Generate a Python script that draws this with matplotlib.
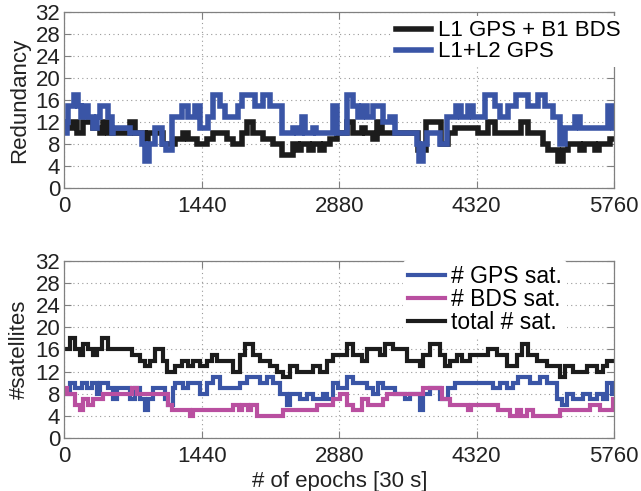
import matplotlib

matplotlib.use("Agg")
import matplotlib.pyplot as plt

plt.rcParams["font.family"] = ["Liberation Sans", "DejaVu Sans"]

N_EPOCHS = 5760
X_TICKS = [0, 1440, 2880, 4320, 5760]
Y_TICKS = [0, 4, 8, 12, 16, 20, 24, 28, 32]

# step series: epoch where a new value starts, and that value
red_bds_x = [0, 30, 93, 128, 197, 302, 372, 407, 459, 687, 739, 844, 879, 1036, 1158, 1246,
             1298, 1386, 1490, 1560, 1700, 1770, 1857, 1909, 1979, 2084, 2189, 2277, 2399, 2450,
             2480, 2560, 2600, 2680, 2720, 2783, 2853, 2957, 3027, 3114, 3149, 3236, 3271, 3324,
             3700, 3788, 3949, 4019, 4089, 4333, 4438, 4508, 4610, 4787, 4857, 5014, 5067, 5172,
             5224, 5276, 5400, 5440, 5560, 5600, 5713]
red_bds_v = [12, 11, 12, 10, 12, 11, 10, 12, 10, 12, 10, 8, 10, 8, 9, 10,
             9, 8, 9, 10, 9, 8, 10, 12, 10, 9, 8, 6, 8, 7,
             8, 7, 8, 7, 8, 9, 10, 12, 10, 11, 10, 9, 12, 10,
             7, 12, 8, 10, 11, 10, 12, 10, 10, 12, 10, 8, 7, 5,
             7, 8, 7, 8, 7, 8, 9]

red_gps_x = [0, 25, 40, 100, 145, 170, 197, 250, 302, 344, 372, 459, 494, 512, 687, 809, 840,
             889, 949, 1019, 1064, 1123, 1228, 1298, 1368, 1420, 1508, 1560, 1630, 1682, 1822,
             1857, 1997, 2084, 2154, 2277, 2400, 2440, 2486, 2521, 2600, 2640, 2818, 2860, 2957,
             3027, 3079, 3114, 3166, 3236, 3341, 3411, 3463, 3690, 3720, 3760, 3795, 3931, 4005,
             4106, 4158, 4228, 4280, 4403, 4508, 4560, 4647, 4735, 4857, 4962, 5032, 5119, 5189,
             5242, 5346, 5399, 5696, 5748]
red_gps_v = [10, 12, 15, 17, 15, 13, 15, 13, 11, 13, 15, 13, 10, 11, 10, 8, 5,
             8, 11, 8, 7, 13, 15, 13, 15, 11, 13, 17, 15, 13, 15,
             17, 15, 17, 15, 10, 11, 10, 13, 10, 11, 10, 15, 10, 17,
             15, 13, 15, 13, 15, 12, 13, 10, 8, 5, 8, 10, 8, 13,
             15, 13, 15, 13, 17, 15, 13, 15, 17, 15, 17, 15, 13, 8,
             11, 13, 11, 15, 11]

sat_gps_x = [0, 58, 110, 180, 232, 285, 337, 372, 459, 512, 547, 687, 739, 791, 844, 879, 931,
             1053, 1088, 1141, 1158, 1246, 1298, 1420, 1490, 1560, 1630, 1840, 1909, 2049, 2119,
             2189, 2259, 2329, 2364, 2469, 2539, 2608, 2713, 2748, 2818, 2870, 2957, 3027, 3166,
             3236, 3289, 3341, 3463, 3568, 3621, 3725, 3760, 3830, 3935, 4022, 4092, 4494, 4564,
             4634, 4704, 4756, 4879, 4983, 5053, 5158, 5210, 5263, 5333, 5437, 5507, 5577, 5647,
             5682, 5735]
sat_gps_v = [8, 10, 9, 10, 9, 10, 8, 10, 9, 7, 9, 7, 9, 7, 5, 7, 9,
             7, 6, 9, 10, 9, 10, 8, 10, 11, 9, 10, 11, 10, 11,
             10, 8, 6, 8, 7, 8, 7, 8, 7, 10, 9, 11, 10, 9,
             8, 10, 9, 8, 7, 8, 5, 8, 9, 7, 9, 10, 9, 10,
             9, 10, 11, 10, 11, 10, 7, 6, 8, 7, 8, 7, 8, 7,
             10, 8]

sat_bds_x = [0, 23, 110, 162, 197, 250, 302, 407, 704, 756, 1088, 1123, 1316, 1351, 1770, 1830,
             1860, 1920, 1950, 2014, 2294, 2643, 2818, 2887, 2957, 3027, 3114, 3184, 3341, 3376,
             3760, 3953, 4040, 4228, 4263, 4543, 4669, 4740, 4780, 4844, 4913, 5193, 5507, 5612,
             5752]
sat_bds_v = [9, 8, 6, 5, 7, 6, 7, 8, 9, 8, 6, 5, 4, 5, 6, 5,
             6, 5, 6, 4, 5, 6, 7, 8, 6, 5, 7, 6, 7, 8,
             9, 7, 6, 5, 6, 5, 4, 5, 4, 5, 4, 5, 6, 5,
             7]

sat_total_x = [0, 58, 110, 162, 197, 250, 302, 337, 390, 459, 704, 791, 844, 896, 949, 1036,
               1071, 1158, 1228, 1298, 1351, 1420, 1490, 1543, 1595, 1770, 1840, 1892, 1979, 2049,
               2154, 2224, 2294, 2364, 2434, 2608, 2678, 2748, 2818, 2957, 3027, 3114, 3166, 3306,
               3359, 3446, 3586, 3725, 3760, 3830, 3935, 3987, 4040, 4110, 4162, 4250, 4442, 4529,
               4634, 4739, 4791, 4861, 4948, 5053, 5193, 5245, 5333, 5473, 5577, 5647, 5682]
sat_total_v = [16, 18, 16, 15, 17, 16, 15, 16, 18, 16, 15, 14, 13, 14, 16, 14,
               12, 13, 14, 13, 14, 13, 14, 15, 14, 12, 15, 17, 15, 14,
               13, 12, 11, 13, 12, 13, 12, 14, 15, 17, 15, 14, 16, 15,
               17, 16, 14, 13, 15, 17, 15, 13, 14, 15, 14, 15, 16, 15,
               13, 15, 17, 15, 14, 13, 11, 13, 12, 13, 12, 13, 14]

BLUE = "#3a55a6"
MAGENTA = "#b94fa0"
BLACK = "#1c1c1c"


def draw_steps(ax, xs, vs, color, label, lw):
    ax.step(xs + [N_EPOCHS], vs + [vs[-1]], where="post", color=color, lw=lw, label=label,
            solid_joinstyle="miter")


def style_axes(ax):
    ax.set_xlim(0, N_EPOCHS)
    ax.set_ylim(0, 32)
    ax.set_xticks(X_TICKS)
    ax.set_yticks(Y_TICKS)
    ax.grid(True, linestyle=(0, (1, 3)), color="#9a9a9a", linewidth=0.8)
    ax.tick_params(direction="in", top=True, right=True, length=5, color="#808080",
                   labelsize=16, labelcolor="#222222")
    ax.tick_params(axis="x", pad=6)
    ax.tick_params(axis="y", pad=3)
    for spine in ax.spines.values():
        spine.set_color("#808080")
        spine.set_linewidth(0.9)


fig = plt.figure(figsize=(6.41, 4.91), dpi=100)
ax1 = fig.add_axes([0.1006, 0.617, 0.8574, 0.3586])
ax2 = fig.add_axes([0.1006, 0.108, 0.8574, 0.3604])

draw_steps(ax1, red_bds_x, red_bds_v, BLACK, "L1 GPS + B1 BDS", 4.0)
draw_steps(ax1, red_gps_x, red_gps_v, BLUE, "L1+L2 GPS", 4.0)
style_axes(ax1)
ax1.set_ylabel("Redundancy", fontsize=16, color="#222222", labelpad=4)
ax1.legend(loc="upper right", bbox_to_anchor=(1.04, 1.04), fontsize=16, frameon=True,
           facecolor="white", edgecolor="none", framealpha=1, labelspacing=0.0,
           handlelength=1.6, handletextpad=0.3, borderpad=0.2)

draw_steps(ax2, sat_gps_x, sat_gps_v, BLUE, "# GPS sat.", 3.0)
draw_steps(ax2, sat_bds_x, sat_bds_v, MAGENTA, "# BDS sat.", 3.0)
draw_steps(ax2, sat_total_x, sat_total_v, BLACK, "total # sat.", 3.0)
style_axes(ax2)
ax2.set_ylabel("#satellites", fontsize=16, color="#222222", labelpad=4)
ax2.set_xlabel("# of epochs [30 s]", fontsize=16, color="#222222", labelpad=3)
ax2.legend(loc="upper right", bbox_to_anchor=(0.935, 1.07), fontsize=16.5, frameon=True,
           facecolor="white", edgecolor="none", framealpha=1, labelspacing=0.0,
           handlelength=1.6, handletextpad=0.3, borderpad=0.2)

fig.savefig("out.png", dpi=100)
